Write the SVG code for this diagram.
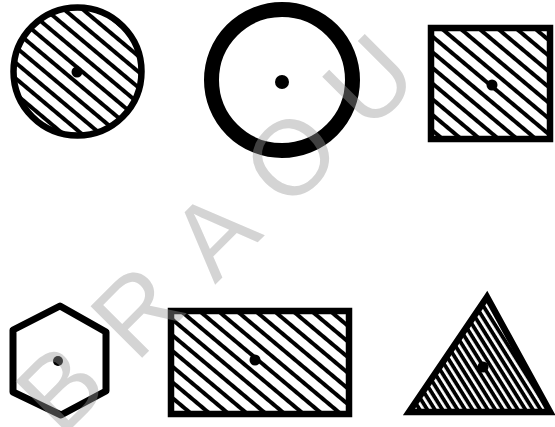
<svg xmlns="http://www.w3.org/2000/svg" width="555" height="427" viewBox="0 0 555 427">
<defs>
  <pattern id="hatch" patternUnits="userSpaceOnUse" width="12" height="12" patternTransform="rotate(40)">
    <rect x="0" y="0" width="12" height="4" fill="#000"/>
  </pattern>
  <pattern id="hatchTri" patternUnits="userSpaceOnUse" width="6.4" height="6.4" patternTransform="rotate(58)">
    <rect x="0" y="0" width="6.4" height="3.8" fill="#000"/>
  </pattern>
  <style>
    .outline { stroke: #000; stroke-width: 6.5; fill: url(#hatch); }
    .dot { fill: #000; }
    .wm { font-family: "Liberation Sans", Arial, sans-serif; font-size: 106px; fill: #999; fill-opacity: 0.42; text-anchor: middle; }
  </style>
</defs>
<rect width="555" height="427" fill="#fff"/>

<g id="hatched-circle">
  <circle cx="77.5" cy="71.5" r="64" class="outline" stroke-width="7"/>
  <circle cx="77" cy="72" r="5.5" class="dot"/>
</g>

<g id="ring">
  <circle cx="282" cy="80" r="70.5" fill="none" stroke="#000" stroke-width="15"/>
  <circle cx="282" cy="82" r="7" class="dot"/>
</g>

<g id="hatched-square">
  <rect x="431" y="28" width="119" height="111" class="outline"/>
  <circle cx="492" cy="85" r="5.5" class="dot"/>
</g>

<g id="hexagon">
  <polygon points="60,306 106,332 106,391 61,415 13,392 13,330" fill="none" stroke="#000" stroke-width="7" stroke-linejoin="round"/>
  <circle cx="58" cy="361" r="5" class="dot"/>
</g>

<g id="hatched-rectangle">
  <rect x="171" y="311" width="178" height="103" class="outline"/>
  <circle cx="255" cy="360" r="5.5" class="dot"/>
</g>

<g id="hatched-triangle">
  <polygon points="487,297 409,412 550,412" fill="url(#hatchTri)" stroke="#000" stroke-width="6.5" stroke-linejoin="miter"/>
  <circle cx="483" cy="367" r="5.5" class="dot"/>
</g>

<g id="watermark">
  <text class="wm" x="86" y="414" transform="rotate(-45 86 414)">B</text>
  <text class="wm" x="163" y="337" transform="rotate(-45 163 337)">R</text>
  <text class="wm" x="240" y="260" transform="rotate(-45 240 260)">A</text>
  <text class="wm" x="317" y="183" transform="rotate(-45 317 183)">O</text>
  <text class="wm" x="395" y="107" transform="rotate(-45 395 107)">U</text>
</g>
</svg>
